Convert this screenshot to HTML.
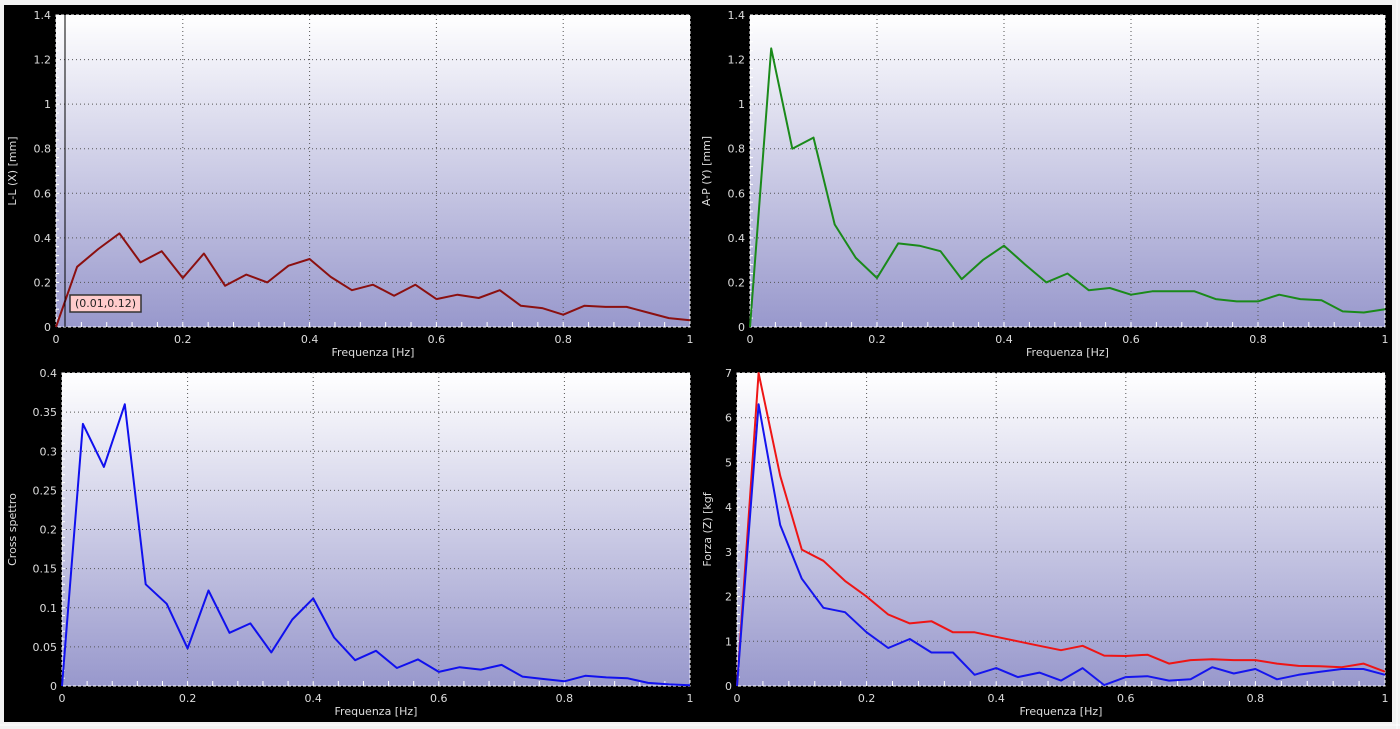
<!DOCTYPE html>
<html><head><meta charset="utf-8"><style>
html,body{margin:0;padding:0;background:#f0f0f0;width:1400px;height:729px;overflow:hidden}
svg{position:absolute;left:0;top:0}
text{font-family:"DejaVu Sans","Liberation Sans",sans-serif;font-size:11px;fill:#ddd}
</style></head><body>
<svg id="s" width="1400" height="729" xmlns="http://www.w3.org/2000/svg">
<defs><linearGradient id="g" x1="0" y1="0" x2="0" y2="1"><stop offset="0" stop-color="#ffffff"/><stop offset="1" stop-color="#9898cc"/></linearGradient></defs>
<rect x="0" y="0" width="1400" height="729" fill="#f2f2f2"/>
<rect x="4" y="5" width="1388" height="717" fill="#000"/>
<line x1="1397" y1="0" x2="1397" y2="729" stroke="#fff"/>
<line x1="0" y1="725" x2="1400" y2="725" stroke="#fff"/>
</svg>
<script>
const s=document.getElementById('s');const NS='http://www.w3.org/2000/svg';
function el(t,a,txt){const e=document.createElementNS(NS,t);for(const k in a)e.setAttribute(k,a[k]);if(txt!==undefined)e.textContent=txt;s.appendChild(e);return e;}
function plot(x0,y0,x1,y1,ymax,ystep,ylabels,ytitle,series){
 el('rect',{x:x0,y:y0,width:x1-x0,height:y1-y0,fill:'url(#g)'});
 const W=x1-x0,H=y1-y0;
 const px=v=>x0+v*W, py=v=>y1-v/ymax*H;
 for(let i=0;i<ylabels.length;i++){const v=i*ystep;const y=py(v);
  if(i>0&&i<ylabels.length-1)el('line',{x1:x0,y1:y,x2:x1,y2:y,stroke:'#555','stroke-dasharray':'1,3'});
  el('text',{x:x0-5,y:y+4,'text-anchor':'end'},ylabels[i]);}
 for(let i=0;i<=5;i++){const x=px(i*0.2);
  if(i>0&&i<5)el('line',{x1:x,y1:y0,x2:x,y2:y1,stroke:'#555','stroke-dasharray':'1,3'});
  el('text',{x:x,y:y1+16,'text-anchor':'middle'},i==0?'0':i==5?'1':(i*0.2).toFixed(1));}
 for(let i=1;i<25;i++){const x=px(i*0.04);el('line',{x1:x,y1:y1,x2:x,y2:y1-5,stroke:'#fff'});}
 const n=(ylabels.length-1)*5;for(let i=1;i<n;i++){const y=y1-i*H/n;el('line',{x1:x0,y1:y,x2:x0+3,y2:y,stroke:'#fff'});}
 el('rect',{x:x0,y:y0,width:W,height:H,fill:'none',stroke:'#fff','stroke-dasharray':'3,2'});
 el('text',{x:(x0+x1)/2,y:y1+29,'text-anchor':'middle','font-size':'10'},'Frequenza [Hz]');
 const tx=x0-(ytitle.len||42);
 el('text',{x:tx,y:(y0+y1)/2,'text-anchor':'middle','font-size':'10',transform:`rotate(-90 ${tx} ${(y0+y1)/2})`},ytitle.t);
 series.forEach(([d,c])=>{el('polyline',{points:d.map((v,i)=>px(i/30).toFixed(1)+','+py(v).toFixed(1)).join(' '),fill:'none',stroke:c,'stroke-width':2,'stroke-linejoin':'round'});});
}
plot(56,15,690,327,1.4,0.2,['0','0.2','0.4','0.6','0.8','1','1.2','1.4'],{t:'L-L (X) [mm]',len:40},
 [[[0,0.27,0.35,0.42,0.29,0.34,0.22,0.33,0.185,0.235,0.20,0.275,0.305,0.225,0.165,0.19,0.14,0.19,0.125,0.145,0.13,0.165,0.095,0.085,0.055,0.095,0.09,0.09,0.065,0.04,0.03],'#8b1010']]);
el('line',{x1:65,y1:15,x2:65,y2:327,stroke:'#000'});
el('rect',{x:70,y:295,width:71,height:17,fill:'#fcc',stroke:'#333','stroke-width':1.5});
el('text',{x:105.5,y:307,'text-anchor':'middle',style:'fill:#222'},'(0.01,0.12)');
plot(750,15,1385,327,1.4,0.2,['0','0.2','0.4','0.6','0.8','1','1.2','1.4'],{t:'A-P (Y) [mm]',len:40},
 [[[0,1.25,0.80,0.85,0.46,0.31,0.22,0.375,0.365,0.34,0.215,0.30,0.365,0.28,0.20,0.24,0.165,0.175,0.145,0.16,0.16,0.16,0.125,0.115,0.115,0.145,0.125,0.12,0.07,0.065,0.08],'#1a8a1a']]);
plot(62,373,690,686,0.4,0.05,['0','0.05','0.1','0.15','0.2','0.25','0.3','0.35','0.4'],{t:'Cross spettro',len:46},
 [[[0,0.335,0.28,0.36,0.13,0.105,0.048,0.122,0.068,0.08,0.043,0.085,0.112,0.062,0.033,0.045,0.023,0.034,0.018,0.024,0.021,0.027,0.012,0.009,0.006,0.013,0.011,0.01,0.004,0.002,0.001],'#1010ee']]);
plot(737,373,1385,686,7,1,['0','1','2','3','4','5','6','7'],{t:'Forza (Z) [kgf',len:26},
 [[[0,7.0,4.7,3.05,2.8,2.35,2.0,1.6,1.4,1.45,1.2,1.2,1.1,1.0,0.9,0.8,0.9,0.68,0.67,0.7,0.5,0.58,0.6,0.58,0.58,0.5,0.45,0.44,0.42,0.5,0.32],'#ee1515'],
  [[0,6.3,3.6,2.4,1.75,1.65,1.2,0.85,1.05,0.75,0.75,0.25,0.4,0.2,0.3,0.12,0.4,0.02,0.2,0.22,0.12,0.15,0.42,0.28,0.38,0.15,0.25,0.32,0.38,0.38,0.25],'#1515ee']]);
</script>
</body></html>
